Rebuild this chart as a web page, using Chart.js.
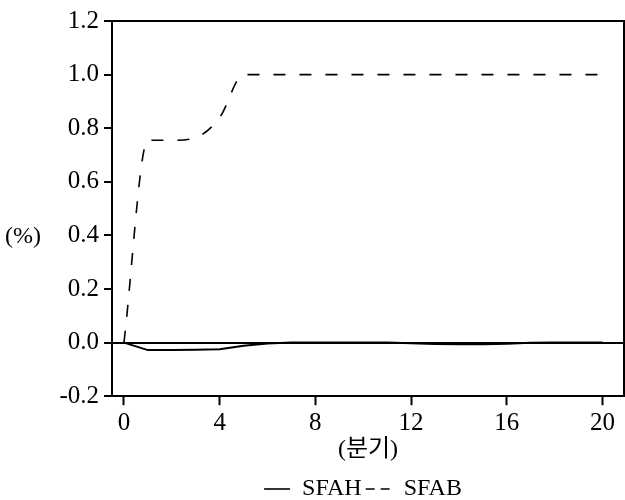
<!DOCTYPE html>
<html lang="ko">
<head>
    <meta charset="UTF-8">
    <title>SFAH / SFAB</title>
    <script src="https://cdn.jsdelivr.net/npm/chart.js"></script>
    <style>
        html, body { margin: 0; padding: 0; background: #fff; }
        #wrap { width: 625px; height: 500px; }
    </style>
</head>
<body>
    <div id="wrap"><canvas id="chart" width="625" height="500"></canvas></div>
    <script>
        // quarters (분기) and the two response series
        const quarters = [0, 1, 2, 3, 4, 5, 6, 7, 8, 9, 10, 11, 12, 13, 14, 15, 16, 17, 18, 19, 20];
        const sfah = [0, -0.028, -0.028, -0.027, -0.025, -0.012, -0.003, 0, 0, 0, 0, 0, -0.002, -0.005, -0.006, -0.006, -0.004, -0.001, 0, 0, 0];
        const sfab = [0, 0.755, 0.755, 0.765, 0.84, 1.0, 1.0, 1.0, 1.0, 1.0, 1.0, 1.0, 1.0, 1.0, 1.0, 1.0, 1.0, 1.0, 1.0, 1.0, 1.0];
        const xTicks = [0, 4, 8, 12, 16, 20];
        const yTicks = [-0.2, 0.0, 0.2, 0.4, 0.6, 0.8, 1.0, 1.2];

        const serif = "'Liberation Serif', 'DejaVu Serif', serif";

        // top and right edges of the frame, plus the "(%)" label
        const framePlugin = {
            id: 'frame',
            afterLayout(chart) {
                // legend sits a bit right of the canvas centre and lower down
                const lg = chart.legend;
                if (lg) {
                    lg.left += 100; lg.right += 2;
                    lg.top += 9; lg.bottom += 9;
                }
            },
            afterDraw(chart) {
                const { ctx, chartArea: a, scales } = chart;
                ctx.save();
                ctx.strokeStyle = '#000';
                ctx.lineWidth = 2;
                ctx.beginPath();
                ctx.moveTo(a.left, a.top);
                ctx.lineTo(a.right, a.top);
                ctx.lineTo(a.right, a.bottom);
                ctx.stroke();
                ctx.fillStyle = '#000';
                ctx.font = '24px ' + serif;
                ctx.textAlign = 'left';
                ctx.textBaseline = 'middle';
                ctx.fillText('(%)', 5, scales.y.getPixelForValue(0.4) + 1);
                ctx.restore();
            }
        };

        const legendDash = { SFAH: [], SFAB: [9, 6] };

        new Chart(document.getElementById('chart'), {
            type: 'line',
            data: {
                datasets: [
                    {
                        label: 'SFAH',
                        data: quarters.map((q, i) => ({ x: q, y: sfah[i] })),
                        borderColor: '#000',
                        borderWidth: 2,
                        pointRadius: 0,
                        fill: false
                    },
                    {
                        label: 'SFAB',
                        data: quarters.map((q, i) => ({ x: q, y: sfab[i] })),
                        borderColor: '#000',
                        borderWidth: 1.6,
                        borderDash: [12, 14],
                        cubicInterpolationMode: 'monotone',
                        pointRadius: 0,
                        fill: false
                    }
                ]
            },
            options: {
                responsive: false,
                animation: false,
                layout: { padding: { left: 0, top: 21, right: 1, bottom: -2 } },
                plugins: {
                    tooltip: { enabled: false },
                    legend: {
                        position: 'bottom',
                        labels: {
                            color: '#000',
                            font: { family: serif, size: 24 },
                            usePointStyle: true,
                            pointStyle: 'line',
                            pointStyleWidth: 26,
                            padding: 4,
                            generateLabels: chart => {
                                const items = Chart.defaults.plugins.legend.labels.generateLabels(chart);
                                items.forEach(it => {
                                    it.lineDash = legendDash[it.text] || [];
                                    it.lineWidth = 1.6;
                                });
                                return items;
                            }
                        }
                    }
                },
                scales: {
                    x: {
                        type: 'linear',
                        min: -0.5,
                        max: 20.9,
                        afterBuildTicks: s => { s.ticks = xTicks.map(v => ({ value: v })); },
                        border: { display: true, color: '#000', width: 2 },
                        grid: { drawOnChartArea: false, tickLength: 9, tickColor: '#000', tickWidth: 2 },
                        ticks: { color: '#000', font: { family: serif, size: 25 }, padding: 3, maxRotation: 0 },
                        title: {
                            display: true,
                            text: '(분기)',
                            color: '#000',
                            font: { family: "'Liberation Serif', 'Noto Sans CJK KR', serif", size: 24 },
                            padding: { top: -6, bottom: 0 }
                        }
                    },
                    y: {
                        min: -0.2,
                        max: 1.2,
                        afterBuildTicks: s => { s.ticks = yTicks.map(v => ({ value: v })); },
                        afterFit: s => { s.width = 112; },
                        border: { display: true, color: '#000', width: 2 },
                        grid: {
                            color: c => (c.tick && Math.abs(c.tick.value) < 1e-9 ? '#000' : 'rgba(0,0,0,0)'),
                            lineWidth: 2,
                            tickLength: 8,
                            tickColor: '#000',
                            tickWidth: 2
                        },
                        ticks: {
                            color: '#000',
                            font: { family: serif, size: 25 },
                            padding: 5,
                            callback: v => v.toFixed(1)
                        }
                    }
                }
            },
            plugins: [framePlugin]
        });
    </script>
</body>
</html>
